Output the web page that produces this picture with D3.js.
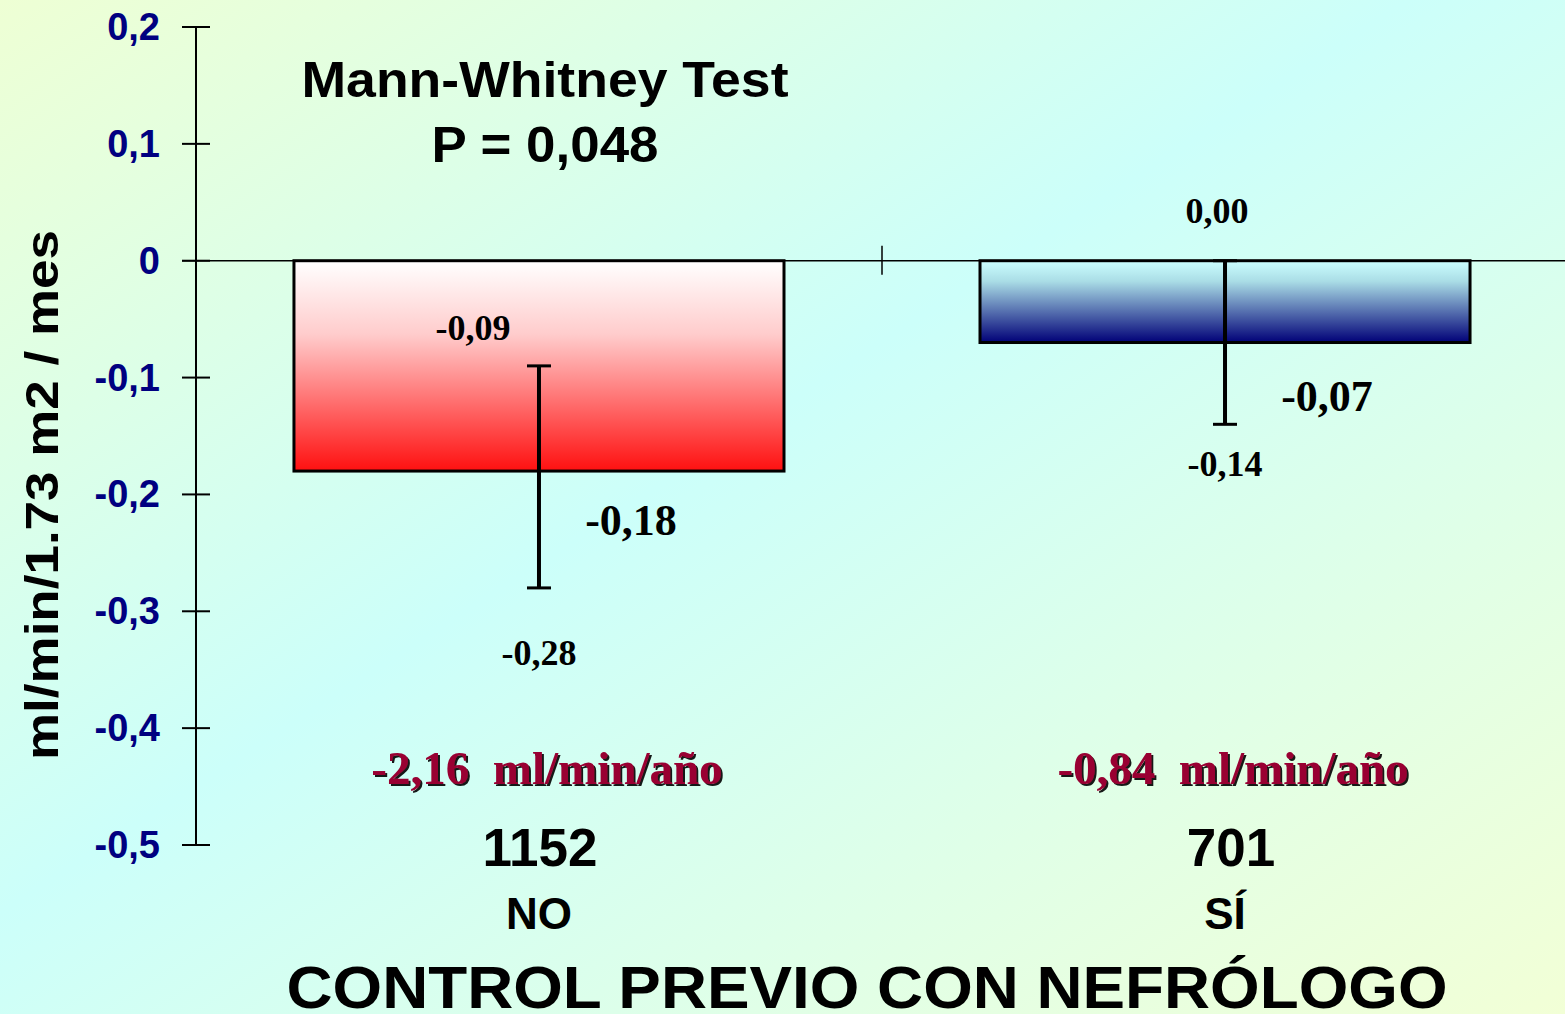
<!DOCTYPE html>
<html>
<head>
<meta charset="utf-8">
<script src="https://cdn.jsdelivr.net/npm/d3@7"></script>
<style>
  body { margin: 0; overflow: hidden; }
  svg { display: block; }
</style>
</head>
<body>
<div id="chart"></div>
<script>
// data
const categories = ['NO', 'SÍ'];
const counts = ['1152', '701'];
const means = [-0.18, -0.07];
const errLow = [-0.28, -0.14];
const errHigh = [-0.09, 0.00];
const yearly = ['-2,16  ml/min/año', '-0,84  ml/min/año'];
const yTicks = [0.2, 0.1, 0, -0.1, -0.2, -0.3, -0.4, -0.5];

const W = 1565, H = 1014;
const fmt = v => v.toFixed(2).replace('.', ',');
const tickFmt = v => v === 0 ? '0' : String(+v.toFixed(1)).replace('.', ',');

const serif = 'Liberation Serif, Times New Roman, serif';
const sans = 'Liberation Sans, Arial, sans-serif';

const svg = d3.select('#chart').append('svg')
    .attr('width', W)
    .attr('height', H);

const defs = svg.append('defs');

// background gradient: pale yellow corners, cyan in the middle
const bg = defs.append('linearGradient')
    .attr('id', 'bg')
    .attr('x1', '0%').attr('y1', '0%')
    .attr('x2', '100%').attr('y2', '100%');
bg.append('stop').attr('offset', '0%').attr('stop-color', '#eeffd4');
bg.append('stop').attr('offset', '45%').attr('stop-color', '#ccfffa');
bg.append('stop').attr('offset', '100%').attr('stop-color', '#f2ffd6');

const redGrad = defs.append('linearGradient')
    .attr('id', 'redGrad')
    .attr('x1', 0).attr('y1', 0).attr('x2', 0).attr('y2', 1);
redGrad.append('stop').attr('offset', '0%').attr('stop-color', '#ffffff');
redGrad.append('stop').attr('offset', '35%').attr('stop-color', '#ffcccc');
redGrad.append('stop').attr('offset', '100%').attr('stop-color', '#ff1010');

const blueGrad = defs.append('linearGradient')
    .attr('id', 'blueGrad')
    .attr('x1', 0).attr('y1', 0).attr('x2', 0).attr('y2', 1);
blueGrad.append('stop').attr('offset', '0%').attr('stop-color', '#ccffff');
blueGrad.append('stop').attr('offset', '25%').attr('stop-color', '#aadde6');
blueGrad.append('stop').attr('offset', '100%').attr('stop-color', '#000077');

const shadow = defs.append('filter').attr('id', 'shadow');
shadow.append('feDropShadow')
    .attr('dx', 2).attr('dy', 2)
    .attr('stdDeviation', 0.3)
    .attr('flood-color', '#000')
    .attr('flood-opacity', 0.9);

svg.append('rect')
    .attr('width', W)
    .attr('height', H)
    .attr('fill', 'url(#bg)');

// scales
const y = d3.scaleLinear()
    .domain([-0.5, 0.2])
    .range([845, 27]);

const x = d3.scaleBand()
    .domain(categories)
    .range([196, 1568])
    .paddingInner(0.2857)
    .paddingOuter(0.1428);

const axisX = 196;

// y axis
svg.append('line')
    .attr('x1', axisX).attr('x2', axisX)
    .attr('y1', y(0.2)).attr('y2', y(-0.5))
    .attr('stroke', '#000').attr('stroke-width', 2);

svg.selectAll('.ytick')
    .data(yTicks)
    .enter()
    .append('line')
    .attr('x1', axisX - 14).attr('x2', axisX + 14)
    .attr('y1', d => y(d)).attr('y2', d => y(d))
    .attr('stroke', '#000').attr('stroke-width', 2);

svg.selectAll('.ylabel')
    .data(yTicks)
    .enter()
    .append('text')
    .attr('x', 160)
    .attr('y', d => y(d) + 13)
    .attr('text-anchor', 'end')
    .style('font-family', sans)
    .style('font-weight', 'bold')
    .style('font-size', '38px')
    .style('fill', '#000080')
    .text(tickFmt);

svg.append('text')
    .attr('transform', `translate(58, ${495}) rotate(-90)`)
    .attr('text-anchor', 'middle')
    .attr('textLength', 530)
    .attr('lengthAdjust', 'spacingAndGlyphs')
    .style('font-family', sans)
    .style('font-weight', 'bold')
    .style('font-size', '46px')
    .text('ml/min/1.73 m2 / mes');

// bars
const bandStep = x.step();
svg.selectAll('.bar')
    .data(categories)
    .enter()
    .append('rect')
    .attr('x', d => x(d))
    .attr('y', y(0))
    .attr('width', x.bandwidth())
    .attr('height', (d, i) => y(means[i]) - y(0))
    .attr('fill', (d, i) => i === 0 ? 'url(#redGrad)' : 'url(#blueGrad)')
    .attr('stroke', '#000')
    .attr('stroke-width', 3);

// zero line and category separator tick
svg.append('line')
    .attr('x1', axisX - 14).attr('x2', W)
    .attr('y1', y(0)).attr('y2', y(0))
    .attr('stroke', '#000').attr('stroke-width', 1.5);

const sepX = x('NO') + x.bandwidth() + (bandStep - x.bandwidth()) / 2;
svg.append('line')
    .attr('x1', sepX).attr('x2', sepX)
    .attr('y1', y(0) - 15).attr('y2', y(0) + 14)
    .attr('stroke', '#000').attr('stroke-width', 1.5);

// error bars
const cx = d => x(d) + x.bandwidth() / 2;
const err = svg.selectAll('.err')
    .data(categories)
    .enter()
    .append('g');
err.append('line')
    .attr('x1', cx).attr('x2', cx)
    .attr('y1', (d, i) => y(errHigh[i])).attr('y2', (d, i) => y(errLow[i]))
    .attr('stroke', '#000').attr('stroke-width', 4);
err.append('line')
    .attr('x1', d => cx(d) - 12).attr('x2', d => cx(d) + 12)
    .attr('y1', (d, i) => y(errHigh[i])).attr('y2', (d, i) => y(errHigh[i]))
    .attr('stroke', '#000').attr('stroke-width', 3);
err.append('line')
    .attr('x1', d => cx(d) - 12).attr('x2', d => cx(d) + 12)
    .attr('y1', (d, i) => y(errLow[i])).attr('y2', (d, i) => y(errLow[i]))
    .attr('stroke', '#000').attr('stroke-width', 3);

// upper error labels
svg.selectAll('.hiLab')
    .data(categories)
    .enter()
    .append('text')
    .attr('x', (d, i) => cx(d) + (i === 0 ? -66 : -8))
    .attr('y', (d, i) => y(errHigh[i]) - (i === 0 ? 26 : 38))
    .attr('text-anchor', 'middle')
    .style('font-family', serif)
    .style('font-weight', 'bold')
    .style('font-size', '36px')
    .text((d, i) => fmt(errHigh[i]));

// lower error labels
svg.selectAll('.loLab')
    .data(categories)
    .enter()
    .append('text')
    .attr('x', cx)
    .attr('y', (d, i) => y(errLow[i]) + (i === 0 ? 77 : 52))
    .attr('text-anchor', 'middle')
    .style('font-family', serif)
    .style('font-weight', 'bold')
    .style('font-size', '36px')
    .text((d, i) => fmt(errLow[i]));

// mean labels
svg.selectAll('.meanLab')
    .data(categories)
    .enter()
    .append('text')
    .attr('x', (d, i) => cx(d) + (i === 0 ? 92 : 102))
    .attr('y', (d, i) => y(means[i]) + (i === 0 ? 64 : 68))
    .attr('text-anchor', 'middle')
    .style('font-family', serif)
    .style('font-weight', 'bold')
    .style('font-size', '44px')
    .text((d, i) => fmt(means[i]));

// yearly decline, dark red with shadow
svg.selectAll('.yearLab')
    .data(categories)
    .enter()
    .append('text')
    .attr('x', d => cx(d) + 8)
    .attr('y', 784)
    .attr('text-anchor', 'middle')
    .attr('filter', 'url(#shadow)')
    .style('font-family', serif)
    .style('font-weight', 'bold')
    .style('font-size', '47px')
    .style('fill', '#990033')
    .style('white-space', 'pre')
    .text((d, i) => yearly[i]);

// counts and category names
svg.selectAll('.count')
    .data(categories)
    .enter()
    .append('text')
    .attr('x', (d, i) => cx(d) + (i === 0 ? 1 : 6))
    .attr('y', 866)
    .attr('text-anchor', 'middle')
    .style('font-family', sans)
    .style('font-weight', 'bold')
    .style('font-size', '53px')
    .text((d, i) => counts[i]);

svg.selectAll('.cat')
    .data(categories)
    .enter()
    .append('text')
    .attr('x', cx)
    .attr('y', 929)
    .attr('text-anchor', 'middle')
    .style('font-family', sans)
    .style('font-weight', 'bold')
    .style('font-size', '44px')
    .text(d => d);

svg.append('text')
    .attr('x', 867)
    .attr('y', 1008)
    .attr('text-anchor', 'middle')
    .attr('textLength', 1161)
    .attr('lengthAdjust', 'spacingAndGlyphs')
    .style('font-family', sans)
    .style('font-weight', 'bold')
    .style('font-size', '60px')
    .text('CONTROL PREVIO CON NEFRÓLOGO');

// test annotation
svg.append('text')
    .attr('x', 545)
    .attr('y', 97)
    .attr('text-anchor', 'middle')
    .attr('textLength', 487)
    .attr('lengthAdjust', 'spacingAndGlyphs')
    .style('font-family', sans)
    .style('font-weight', 'bold')
    .style('font-size', '50px')
    .text('Mann-Whitney Test');

svg.append('text')
    .attr('x', 545)
    .attr('y', 162)
    .attr('text-anchor', 'middle')
    .attr('textLength', 227)
    .attr('lengthAdjust', 'spacingAndGlyphs')
    .style('font-family', sans)
    .style('font-weight', 'bold')
    .style('font-size', '50px')
    .text('P = 0,048');
</script>
</body>
</html>
